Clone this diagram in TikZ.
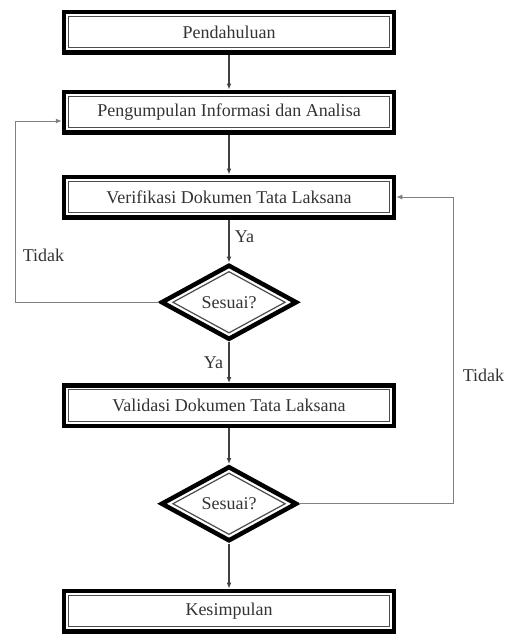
\documentclass[tikz,border=0pt]{standalone}
\usepackage{fontspec}
\setmainfont{Liberation Serif}
\usepackage{tikz}
\usetikzlibrary{arrows.meta,positioning,shapes.geometric}

\begin{document}
\begin{tikzpicture}[x=1pt, y=1pt, node distance=40pt, every node/.style={font=\fontsize{18}{20}\selectfont, text=black!80},
  box/.style={draw, line width=4.5pt, minimum width=330pt, minimum height=40.5pt, inner sep=2pt,
    path picture={\draw[line width=1.2pt, black!70] ([shift={(4.6pt,4.6pt)}]path picture bounding box.south west) rectangle ([shift={(-4.6pt,-4.6pt)}]path picture bounding box.north east);}},
  cek/.style={draw, diamond, aspect=2, line width=4.5pt, minimum width=136pt, minimum height=75pt, inner sep=1pt,
    path picture={\draw[line width=1.2pt, black!70] ([yshift=-6pt]path picture bounding box.north) -- ([xshift=-11pt]path picture bounding box.east) -- ([yshift=6pt]path picture bounding box.south) -- ([xshift=11pt]path picture bounding box.west) -- cycle;}},
  arr/.style={-{Latex[length=6pt,width=5pt]}, line width=1.2pt, black!75},
  back/.style={-{Latex[length=6pt,width=5pt]}, line width=1pt, black!50}]
\useasboundingbox (0,0) rectangle (512,-637);

\node[box] (b1) at (229,-32) {Pendahuluan};
\node[box, below=35pt of b1] (b2) {Pengumpulan Informasi dan Analisa};
\node[box, below=40pt of b2] (b3) {Verifikasi Dokumen Tata Laksana};
\node[cek, below=43pt of b3] (d1) {Sesuai?};
\node[box, below=41pt of d1] (b4) {Validasi Dokumen Tata Laksana};
\node[cek, below=36pt of b4] (d2) {Sesuai?};
\node[box, below=45pt of d2] (b5) {Kesimpulan};

\coordinate (lft) at (15,0);
\coordinate (rgt) at (453,0);
\coordinate (in2) at ([yshift=-9pt]b2.west);

\draw[arr] (b1)--(b2);
\draw[arr] (b2)--(b3);
\draw[arr] (b3)-- node[pos=0.4, right=2pt]{Ya} (d1);
\draw[arr] (d1)-- node[pos=0.5, left=2pt]{Ya} (b4);
\draw[arr] (b4)--(d2);
\draw[arr] (d2)--(b5);
\draw[back] (d1.west) -| (lft |- in2) node[pos=0.63, right=4pt]{Tidak} -- (in2);
\draw[back] (d2.east) -| (rgt |- b3.east) node[pos=0.71, right=6pt]{Tidak} -- (b3.east);
\end{tikzpicture}
\end{document}
